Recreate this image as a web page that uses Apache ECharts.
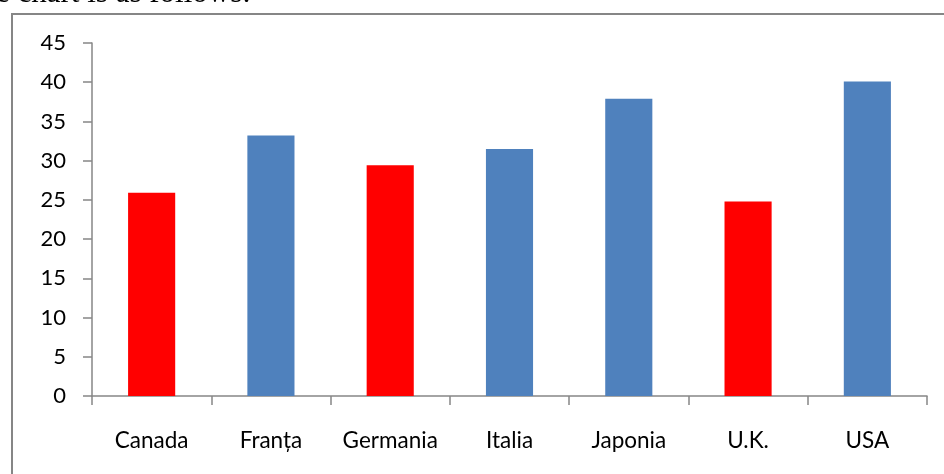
<!DOCTYPE html>
<html>
<head>
<meta charset="utf-8">
<script src="https://cdn.jsdelivr.net/npm/echarts@6/dist/echarts.min.js"></script>
<style>html,body{margin:0;padding:0;background:#fff;}#c{width:944px;height:474px;}</style>
</head>
<body>
<div id="c"></div>
<script>
var categories = ['Canada', 'Franța', 'Germania', 'Italia', 'Japonia', 'U.K.', 'USA'];
var values = [25.9, 33.2, 29.4, 31.5, 37.9, 24.8, 40.1];
var barColors = ['#FF0000', '#4F81BD', '#FF0000', '#4F81BD', '#4F81BD', '#FF0000', '#4F81BD'];
var yTicks = [0, 5, 10, 15, 20, 25, 30, 35, 40, 45];

var chart = echarts.init(document.getElementById('c'));
var font = 'Lato, "Open Sans", sans-serif';
chart.setOption({
  animation: false,
  backgroundColor: '#fff',
  graphic: [
    { type: 'rect', shape: { x: 12, y: 14, width: 1000, height: 600 }, style: { fill: 'none', stroke: '#868686', lineWidth: 2 }, silent: true },
    { type: 'text', left: -4, top: -22, style: { text: 'e chart is as follows:', font: '31px "Liberation Serif", serif', fill: '#000' } }
  ],
  grid: { left: 92, right: 17, top: 43, bottom: 78, containLabel: false },
  xAxis: {
    type: 'category',
    data: categories,
    axisLine: { lineStyle: { color: '#868686', width: 1.5 } },
    axisTick: { show: true, interval: 0, length: 9, lineStyle: { color: '#868686', width: 1.5 } },
    axisLabel: { interval: 0, hideOverlap: false, color: '#000', fontFamily: font, fontSize: 22.5, margin: 33 }
  },
  yAxis: {
    type: 'value',
    min: 0, max: 45, interval: 5,
    axisLine: { show: true, lineStyle: { color: '#868686', width: 1.5 } },
    axisTick: { show: true, length: 9, lineStyle: { color: '#868686', width: 1.5 } },
    splitLine: { show: false },
    axisLabel: { color: '#000', fontFamily: font, fontSize: 22, margin: 26,
      formatter: function (v) { return yTicks.indexOf(v) >= 0 ? String(v) : ''; } }
  },
  series: [{
    type: 'bar',
    data: values.map(function (v, i) { return { value: v, itemStyle: { color: barColors[i] } }; }),
    barWidth: '39.5%'
  }]
});
</script>
</body>
</html>
